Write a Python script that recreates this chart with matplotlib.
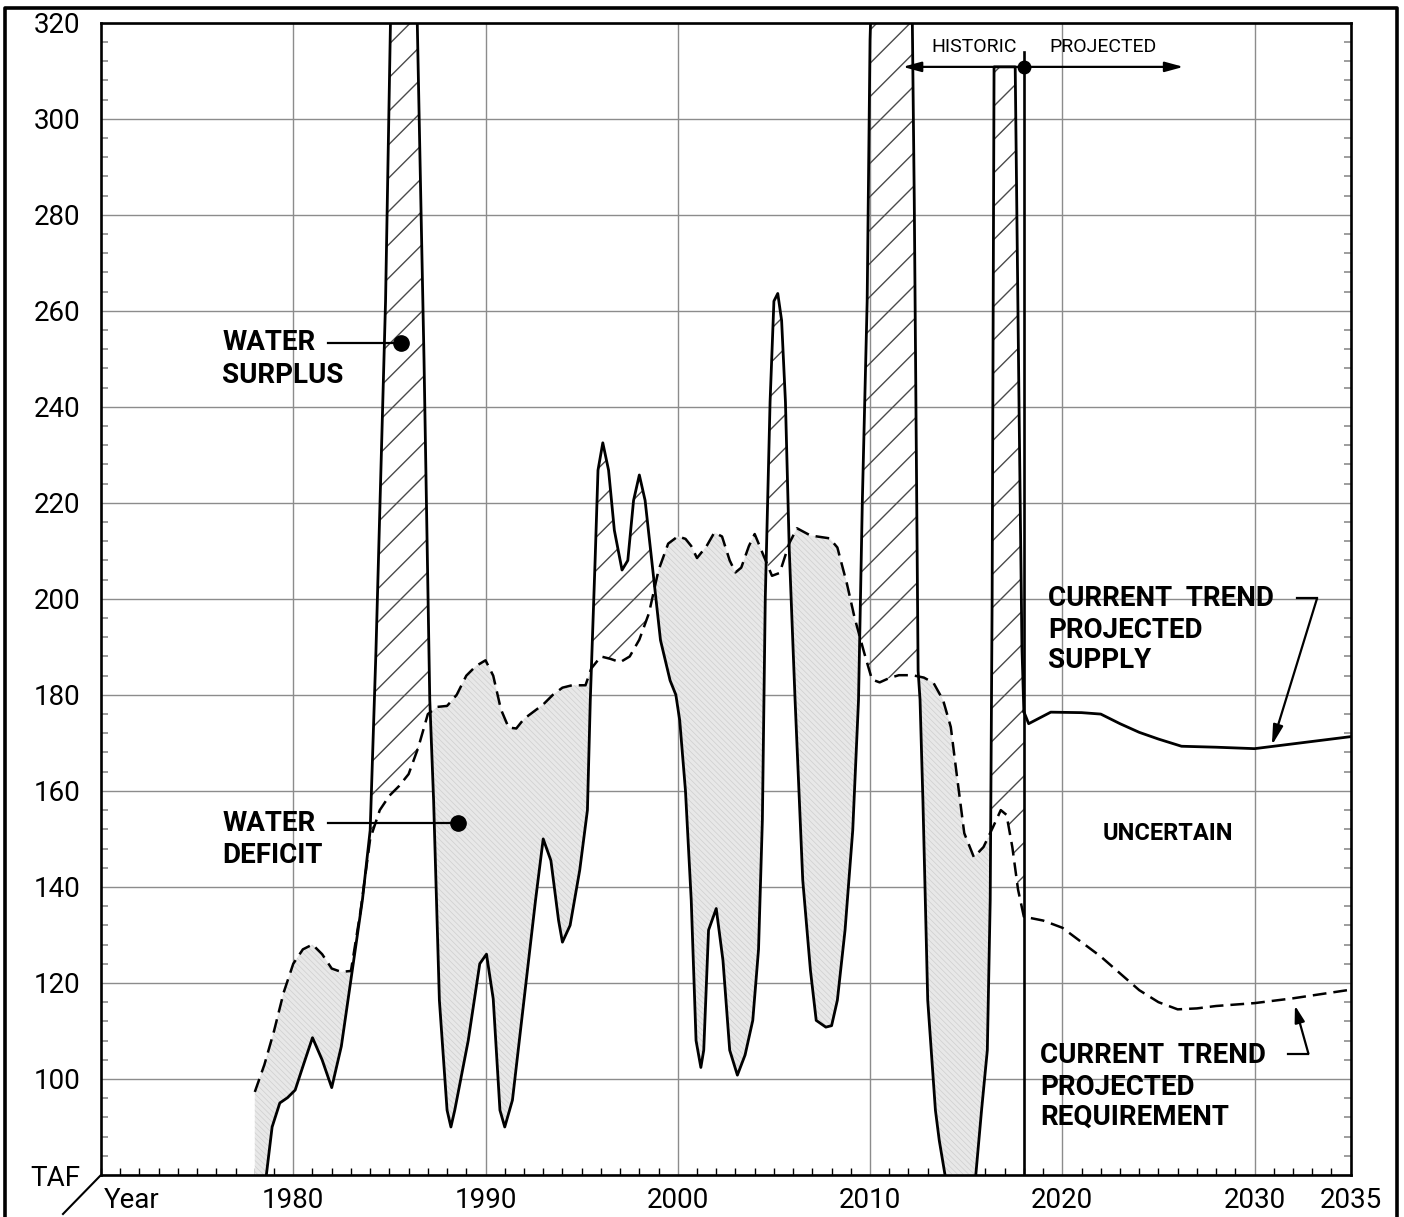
import numpy as np
import matplotlib
matplotlib.use("Agg")
import matplotlib.pyplot as plt
from matplotlib.ticker import MultipleLocator
from matplotlib.lines import Line2D

# Historic water supply (TAF)
supply_years = [1978.0, 1978.9, 1979.3, 1979.7, 1980.1, 1980.5, 1981.0, 1981.5, 1982.0, 1982.5,
                1983.0, 1983.6, 1984.0, 1984.3, 1984.8, 1985.1, 1985.7, 1986.45, 1986.8, 1987.1,
                1987.3, 1987.6, 1988.0, 1988.2, 1988.4, 1989.1, 1989.7, 1990.05, 1990.4, 1990.75,
                1991.0, 1991.4, 1992.0, 1992.6, 1993.0, 1993.4, 1993.8, 1994.0, 1994.4, 1994.9,
                1995.3, 1995.45, 1995.7, 1995.85, 1996.1, 1996.4, 1996.7, 1997.1, 1997.4, 1997.7,
                1998.0, 1998.3, 1998.7, 1999.1, 1999.6, 1999.9, 2000.1, 2000.4, 2000.7, 2000.95,
                2001.2, 2001.35, 2001.6, 2002.0, 2002.35, 2002.7, 2003.1, 2003.5, 2003.9, 2004.2,
                2004.4, 2004.55, 2004.8, 2005.0, 2005.2, 2005.4, 2005.6, 2005.8, 2006.1, 2006.5,
                2006.9, 2007.2, 2007.7, 2008.0, 2008.3, 2008.7, 2009.1, 2009.4, 2009.6, 2009.85,
                2010.0, 2010.1, 2011.2, 2012.2, 2012.3, 2012.5, 2012.6, 2012.75, 2013.0, 2013.4,
                2013.6, 2013.9, 2014.7, 2015.5, 2015.8, 2016.1, 2016.25, 2016.35, 2016.45, 2017.55,
                2017.75, 2017.9, 2018.0]
supply_taf = [60.0, 90.0, 95.0, 96.1, 97.7, 102.6, 108.6, 104.0, 98.2, 106.8,
              120.7, 137.4, 151.8, 189.0, 262.0, 330.0, 380.0, 320.0, 250.0, 179.0,
              158.0, 116.4, 93.5, 90.0, 93.5, 108.0, 124.0, 126.0, 116.7, 93.5,
              90.0, 95.6, 116.4, 137.2, 150.0, 145.5, 133.0, 128.5, 132.0, 143.5,
              156.0, 179.0, 208.0, 226.8, 232.5, 226.8, 214.3, 206.0, 208.0, 220.5,
              225.8, 220.5, 206.0, 191.4, 183.0, 180.0, 174.7, 160.0, 137.2, 108.0,
              102.4, 106.0, 131.0, 135.5, 124.7, 106.0, 100.8, 105.0, 112.2, 127.0,
              154.0, 200.0, 241.0, 262.0, 263.6, 258.0, 241.0, 210.0, 179.0, 141.4,
              122.6, 112.2, 110.8, 111.1, 116.4, 131.0, 151.8, 178.9, 220.5, 262.0,
              316.4, 330.0, 380.0, 320.0, 283.0, 185.0, 179.0, 158.0, 116.4, 93.5,
              87.2, 80.0, 60.0, 80.0, 93.5, 106.0, 137.2, 200.0, 310.8, 310.8,
              240.0, 190.0, 176.5]

# Historic water requirement (TAF)
req_years = [1978.0, 1978.5, 1979.0, 1979.5, 1980.0, 1980.5, 1981.0, 1981.5, 1982.0, 1982.5,
             1983.0, 1983.5, 1984.0, 1984.5, 1985.0, 1985.5, 1986.0, 1986.5, 1987.0, 1987.5,
             1988.0, 1988.5, 1989.0, 1989.5, 1990.0, 1990.4, 1990.8, 1991.2, 1991.6, 1992.0,
             1992.5, 1993.0, 1993.5, 1994.0, 1994.5, 1995.2, 1995.5, 1996.0, 1996.5, 1997.0,
             1997.5, 1998.0, 1998.5, 1999.0, 1999.5, 2000.0, 2000.4, 2000.7, 2001.0, 2001.5,
             2001.9, 2002.3, 2002.7, 2003.0, 2003.3, 2003.7, 2004.0, 2004.4, 2004.9, 2005.3,
             2005.8, 2006.2, 2006.9, 2007.9, 2008.3, 2008.8, 2009.2, 2009.7, 2010.1, 2010.5,
             2011.0, 2011.5, 2012.2, 2012.8, 2013.3, 2013.8, 2014.2, 2014.5, 2014.9, 2015.4,
             2015.9, 2016.4, 2016.8, 2017.1, 2017.4, 2017.7, 2018.0]
req_taf = [97.3, 103.0, 110.0, 118.0, 124.0, 127.0, 128.0, 126.0, 123.0, 122.3,
           122.5, 135.0, 150.0, 156.0, 159.0, 161.0, 163.5, 169.0, 176.0, 177.5,
           177.7, 180.0, 184.0, 186.0, 187.2, 184.0, 177.0, 173.2, 173.0, 175.0,
           176.5, 178.0, 180.0, 181.5, 182.0, 182.0, 185.5, 188.0, 187.5, 186.8,
           188.0, 191.5, 197.0, 206.0, 211.5, 213.0, 212.5, 211.0, 208.5, 211.0,
           213.8, 213.0, 208.0, 205.5, 206.5, 211.0, 213.5, 209.6, 204.8, 205.4,
           211.6, 214.7, 213.2, 212.6, 210.7, 203.1, 196.0, 188.7, 183.2, 182.6,
           183.5, 184.1, 184.1, 183.6, 182.5, 178.9, 173.3, 163.7, 151.2, 146.2,
           148.3, 152.5, 156.0, 155.0, 148.3, 139.4, 133.8]

# Current-trend projections
proj_supply_years = [2018.0, 2018.25, 2019.4, 2021.0, 2022.0, 2023.0, 2024.0, 2025.0,
                     2026.2, 2028.0, 2030.0, 2032.0, 2035.0]
proj_supply_taf = [176.5, 174.0, 176.4, 176.3, 176.0, 174.0, 172.2, 170.8,
                   169.3, 169.1, 168.8, 169.8, 171.3]
proj_req_years = [2019.0, 2020.0, 2021.0, 2022.0, 2023.0, 2024.0, 2025.0, 2026.0,
                  2027.0, 2028.0, 2030.0, 2032.0, 2035.0]
proj_req_taf = [133.0, 131.5, 128.5, 125.5, 122.0, 118.5, 116.0, 114.5,
                114.7, 115.2, 115.8, 116.8, 118.6]

x_ticks = [1980, 1990, 2000, 2010, 2020, 2030, 2035]
x_tick_labels = ['1980', '1990', '2000', '2010', '2020', '2030', '2035']
y_ticks = [80, 100, 120, 140, 160, 180, 200, 220, 240, 260, 280, 300, 320]
y_tick_labels = ['TAF', '100', '120', '140', '160', '180', '200', '220', '240',
                 '260', '280', '300', '320']

FONT = ['Roboto', 'DejaVu Sans']

W, H = 1404, 1217
fig = plt.figure(figsize=(W / 100, H / 100), dpi=100)
ax = fig.add_axes([101 / W, 1 - 1175 / H, 1249.7 / W, 1152.3 / H])
ax.set_xlim(1970, 2035)
ax.set_ylim(80, 320)

# Surplus / deficit shading
xs = np.linspace(1978.0, 2018.0, 16001)
s = np.interp(xs, supply_years, supply_taf)
r = np.interp(xs, req_years, req_taf)
lower = np.clip(s, 80, None)
with plt.rc_context({'hatch.linewidth': 0.5}):
    ax.fill_between(xs, lower, r, where=r >= lower, interpolate=True,
                    facecolor='#e8e8e8', edgecolor='#cfcfcf', hatch='\\\\\\\\\\\\',
                    linewidth=0, zorder=1)
with plt.rc_context({'hatch.linewidth': 1.0}):
    ax.fill_between(xs, r, s, where=s >= r, interpolate=True,
                    facecolor='none', edgecolor='#4a4a4a', hatch='/',
                    linewidth=0, zorder=1)

# Supply and requirement lines
ax.plot(supply_years, supply_taf, color='k', lw=2.0, zorder=4,
        solid_joinstyle='round')
ax.plot(proj_supply_years, proj_supply_taf, color='k', lw=2.0, zorder=4,
        solid_joinstyle='round')
ax.plot(req_years + proj_req_years, req_taf + proj_req_taf, color='k', lw=1.8,
        ls=(0, (5.5, 2.8)), zorder=4)

# Historic / projected divider
ax.plot([2018, 2018], [80, 314], color='k', lw=1.9, zorder=5)
ax.annotate('', xy=(2011.7, 310.8), xytext=(2026.3, 310.8),
            arrowprops=dict(arrowstyle='<|-|>,head_length=1.1,head_width=0.3',
                            lw=1.6, color='k', shrinkA=0, shrinkB=0), zorder=5)
ax.plot([2018], [310.8], 'o', color='k', ms=9, zorder=6)
ax.text(2015.4, 314.9, 'HISTORIC', ha='center', va='center', fontsize=14,
        family=FONT)
ax.text(2022.1, 314.9, 'PROJECTED', ha='center', va='center', fontsize=14,
        family=FONT)

# Grid, ticks and spines
ax.grid(True, which='major', color='#8c8c8c', lw=1.0, zorder=0)
ax.set_axisbelow(True)
ax.set_xticks(x_ticks)
ax.set_xticklabels(x_tick_labels)
ax.set_yticks(y_ticks)
ax.set_yticklabels(y_tick_labels)
ax.xaxis.set_minor_locator(MultipleLocator(1))
ax.yaxis.set_minor_locator(MultipleLocator(4))
ax.tick_params(axis='x', which='major', length=0, pad=9, labelsize=20)
ax.tick_params(axis='y', which='major', length=0, pad=15, labelsize=20)
ax.tick_params(axis='x', which='minor', direction='in', length=5, width=1.0,
               color='k', bottom=True, top=False)
ax.tick_params(axis='y', which='minor', direction='in', length=5, width=1.2,
               color='#8c8c8c', left=True, right=True)
for lab in ax.get_xticklabels() + ax.get_yticklabels():
    lab.set_family(FONT)
for sp in ax.spines.values():
    sp.set_linewidth(1.9)
    sp.set_zorder(7)

# Callout labels
lab_kw = dict(fontsize=20, fontweight='bold', family=FONT, va='center', ha='left')
ax.text(1976.3, 253.3, 'WATER', **lab_kw)
ax.text(1976.3, 246.6, 'SURPLUS', **lab_kw)
ax.plot([1981.8, 1985.6], [253.3, 253.3], color='k', lw=1.6, zorder=6)
ax.plot([1985.6], [253.3], 'o', color='k', ms=11, zorder=6)

ax.text(1976.3, 153.3, 'WATER', **lab_kw)
ax.text(1976.3, 146.6, 'DEFICIT', **lab_kw)
ax.plot([1981.8, 1988.57], [153.3, 153.3], color='k', lw=1.6, zorder=6)
ax.plot([1988.57], [153.3], 'o', color='k', ms=11, zorder=6)

ax.text(2019.26, 200.1, 'CURRENT  TREND', **lab_kw)
ax.text(2019.26, 193.4, 'PROJECTED', **lab_kw)
ax.text(2019.26, 187.1, 'SUPPLY', **lab_kw)
ax.plot([2032.2, 2033.25], [200.1, 200.1], color='k', lw=1.6, zorder=6)
ax.annotate('', xy=(2030.9, 169.5), xytext=(2033.25, 200.1),
            arrowprops=dict(arrowstyle='-|>,head_length=1.2,head_width=0.3',
                            lw=1.6, color='k', shrinkA=0, shrinkB=0), zorder=6)

ax.text(2018.84, 104.9, 'CURRENT  TREND', **lab_kw)
ax.text(2018.84, 98.2, 'PROJECTED', **lab_kw)
ax.text(2018.84, 92.0, 'REQUIREMENT', **lab_kw)
ax.plot([2031.74, 2032.8], [105.3, 105.3], color='k', lw=1.6, zorder=6)
ax.annotate('', xy=(2032.1, 115.3), xytext=(2032.8, 105.3),
            arrowprops=dict(arrowstyle='-|>,head_length=1.0,head_width=0.3',
                            lw=1.6, color='k', shrinkA=0, shrinkB=0), zorder=6)

ax.text(2025.5, 151.2, 'UNCERTAIN', ha='center', va='center', fontsize=17,
        fontweight='bold', family=FONT)

# Axis caption and drawing frame
fig.text(104 / W, 1 - 1200 / H, 'Year', ha='left', va='center', fontsize=20,
         family=FONT)
fig.add_artist(Line2D([100 / W, 63 / W], [1 - 1176 / H, 1 - 1214 / H],
                      transform=fig.transFigure, color='k', lw=1.5))
fig.add_artist(Line2D([5 / W, 5 / W, 1397 / W, 1397 / W],
                      [0, 1 - 8 / H, 1 - 8 / H, 0],
                      transform=fig.transFigure, color='k', lw=2.6))

fig.savefig('out.png', dpi=100)
